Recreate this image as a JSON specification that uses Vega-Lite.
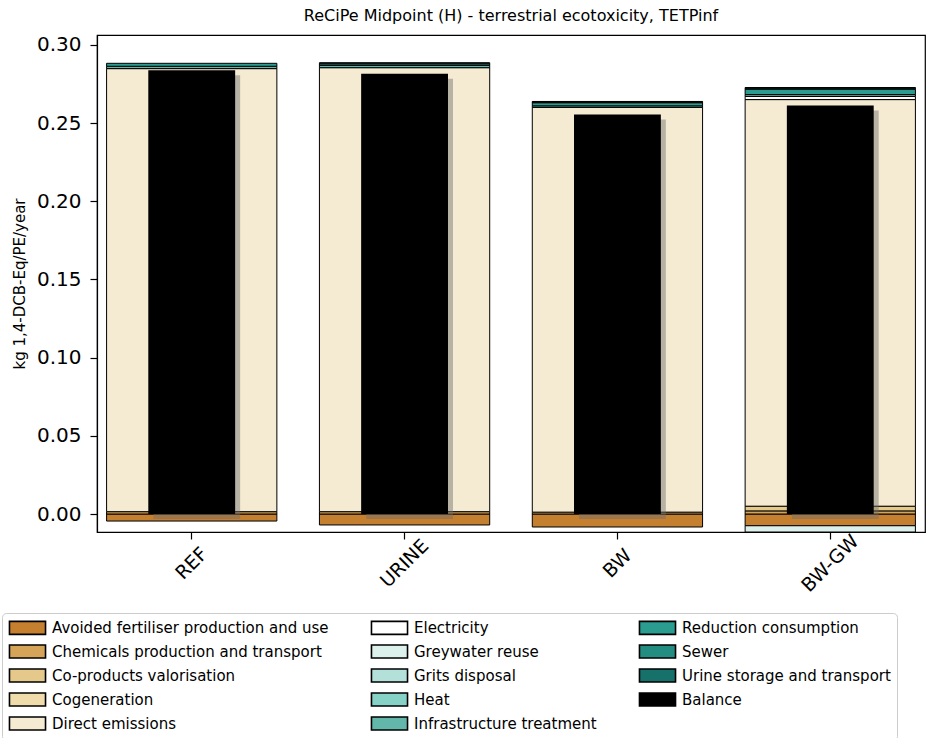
{
  "$schema": "https://vega.github.io/schema/vega-lite/v6.json",
  "autosize": {"type": "none"},
  "width": 828,
  "height": 497,
  "padding": {"left": 97, "top": 35, "right": 8, "bottom": 206},
  "title": {"text": "ReCiPe Midpoint (H) - terrestrial ecotoxicity, TETPinf", "fontSize": 16, "fontWeight": "normal", "font": "DejaVu Sans", "color": "black", "offset": 11, "anchor": "middle"},
  "data": {"values": [
    {"scenario": "REF", "category": "Avoided fertiliser production and use", "value": -0.0045},
    {"scenario": "REF", "category": "Chemicals production and transport", "value": 0.0015},
    {"scenario": "REF", "category": "Direct emissions", "value": 0.2833},
    {"scenario": "REF", "category": "Infrastructure treatment", "value": 0.0015},
    {"scenario": "REF", "category": "Reduction consumption", "value": 0.0019},
    {"scenario": "REF", "category": "Balance", "value": 0.2837},
    {"scenario": "URINE", "category": "Avoided fertiliser production and use", "value": -0.0070},
    {"scenario": "URINE", "category": "Chemicals production and transport", "value": 0.0015},
    {"scenario": "URINE", "category": "Direct emissions", "value": 0.2839},
    {"scenario": "URINE", "category": "Infrastructure treatment", "value": 0.0015},
    {"scenario": "URINE", "category": "Reduction consumption", "value": 0.0010},
    {"scenario": "URINE", "category": "Urine storage and transport", "value": 0.0007},
    {"scenario": "URINE", "category": "Balance", "value": 0.2816},
    {"scenario": "BW", "category": "Avoided fertiliser production and use", "value": -0.0083},
    {"scenario": "BW", "category": "Chemicals production and transport", "value": 0.0012},
    {"scenario": "BW", "category": "Direct emissions", "value": 0.2588},
    {"scenario": "BW", "category": "Infrastructure treatment", "value": 0.0010},
    {"scenario": "BW", "category": "Reduction consumption", "value": 0.0020},
    {"scenario": "BW", "category": "Sewer", "value": 0.0005},
    {"scenario": "BW", "category": "Urine storage and transport", "value": 0.0003},
    {"scenario": "BW", "category": "Balance", "value": 0.2555},
    {"scenario": "BW-GW", "category": "Avoided fertiliser production and use", "value": -0.0075},
    {"scenario": "BW-GW", "category": "Greywater reuse", "value": -0.0040},
    {"scenario": "BW-GW", "category": "Chemicals production and transport", "value": 0.0020},
    {"scenario": "BW-GW", "category": "Co-products valorisation", "value": 0.0030},
    {"scenario": "BW-GW", "category": "Direct emissions", "value": 0.2600},
    {"scenario": "BW-GW", "category": "Electricity", "value": 0.0020},
    {"scenario": "BW-GW", "category": "Infrastructure treatment", "value": 0.0012},
    {"scenario": "BW-GW", "category": "Reduction consumption", "value": 0.0035},
    {"scenario": "BW-GW", "category": "Sewer", "value": 0.0006},
    {"scenario": "BW-GW", "category": "Urine storage and transport", "value": 0.0004},
    {"scenario": "BW-GW", "category": "Balance", "value": 0.2612}
  ]},
  "encoding": {
    "x": {"field": "scenario", "type": "nominal", "sort": ["REF", "URINE", "BW", "BW-GW"],
      "scale": {"paddingInner": 0.2, "paddingOuter": 0.045},
      "axis": {"title": null, "labelAngle": -45, "labelAlign": "center", "labelBaseline": "middle", "labelPadding": 24, "labelFontSize": 19, "labelFont": "DejaVu Sans", "labelColor": "black", "tickColor": "black", "tickSize": 7, "tickWidth": 1.2, "domainColor": "black", "domainWidth": 1.2}}
  },
  "layer": [
    {
      "transform": [{"filter": "datum.category !== 'Balance'"}],
      "mark": {"type": "bar", "stroke": "black", "strokeWidth": 1},
      "encoding": {
        "y": {"field": "value", "type": "quantitative", "stack": "zero",
          "scale": {"domain": [-0.0115, 0.3063], "nice": false, "zero": false},
          "axis": {"title": "kg 1,4-DCB-Eq/PE/year", "titleFontSize": 15, "titleFontWeight": "normal", "titleFont": "DejaVu Sans", "titleColor": "black", "titlePadding": 9, "values": [0, 0.05, 0.1, 0.15, 0.2, 0.25, 0.3], "format": ".2f", "labelFontSize": 20, "labelFont": "DejaVu Sans", "labelColor": "black", "labelPadding": 9, "tickColor": "black", "tickSize": 7, "tickWidth": 1.2, "domainColor": "black", "domainWidth": 1.2, "grid": false}},
        "color": {"field": "category", "type": "nominal",
          "scale": {
            "domain": ["Avoided fertiliser production and use", "Electricity", "Reduction consumption", "Chemicals production and transport", "Greywater reuse", "Sewer", "Co-products valorisation", "Grits disposal", "Urine storage and transport", "Cogeneration", "Heat", "Balance", "Direct emissions", "Infrastructure treatment"],
            "range": ["#c47f2f", "#ffffff", "#2a9d90", "#d6a458", "#dcf0ec", "#238d82", "#e4c98b", "#b3e1d9", "#16716a", "#f0dcaa", "#86d2c7", "#000000", "#f5ead2", "#62b6aa"]
          },
          "legend": {"title": null, "orient": "none", "legendX": -95, "legendY": 578, "columns": 3, "direction": "horizontal", "columnPadding": 39, "rowPadding": 3, "labelFontSize": 15, "labelFont": "DejaVu Sans", "labelColor": "black", "labelOffset": 16, "labelLimit": 400, "symbolOffset": 11, "symbolType": "M-2.5,-0.9H2.5V0.9H-2.5Z", "symbolSize": 208, "symbolStrokeColor": "black", "symbolStrokeWidth": 1.6, "symbolOpacity": 1, "strokeColor": "#cccccc", "cornerRadius": 4, "padding": 6, "fillColor": "white", "gridAlign": "each"}},
        "order": {"field": "category", "sort": "ascending"}
      }
    },
    {
      "transform": [{"filter": "datum.category === 'Balance'"}],
      "mark": {"type": "bar", "color": "#6f6f6f", "opacity": 0.45, "width": {"band": 0.51}, "xOffset": 5, "yOffset": 5},
      "encoding": {"y": {"field": "value", "type": "quantitative"}}
    },
    {
      "transform": [{"filter": "datum.category === 'Balance'"}],
      "mark": {"type": "bar", "color": "black", "width": {"band": 0.51}},
      "encoding": {"y": {"field": "value", "type": "quantitative"}}
    },
    {
      "mark": {"type": "rule", "color": "black", "strokeWidth": 1.3},
      "encoding": {"y": {"datum": 0}}
    }
  ],
  "config": {
    "view": {"stroke": "black", "strokeWidth": 1.2},
    "font": "DejaVu Sans"
  }
}
